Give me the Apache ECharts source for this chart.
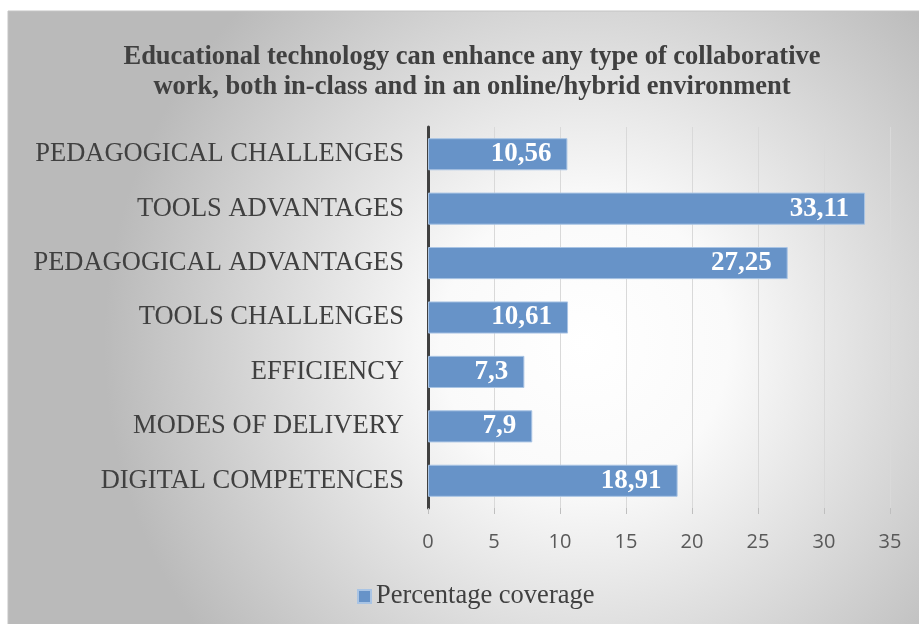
<!DOCTYPE html>
<html><head><meta charset="utf-8">
<script src="https://cdn.jsdelivr.net/npm/echarts@6/dist/echarts.min.js"></script>
<style>html,body{margin:0;padding:0;background:#fff}#c{width:919px;height:624px}</style>
</head><body><div id="c"></div>
<script>
const categories = ["PEDAGOGICAL CHALLENGES","TOOLS ADVANTAGES","PEDAGOGICAL ADVANTAGES","TOOLS CHALLENGES","EFFICIENCY","MODES OF DELIVERY","DIGITAL COMPETENCES"];
const coverage = [10.56, 33.11, 27.25, 10.61, 7.3, 7.9, 18.91];
const seriesName = "Percentage coverage";
const titleText = "Educational technology can enhance any type of collaborative\nwork, both in-class and in an online/hybrid environment";

const chart = echarts.init(document.getElementById('c'));
chart.setOption({
  backgroundColor: '#ffffff',
  animation: false,
  graphic: [{
    type: 'rect', z: -10, silent: true,
    shape: {x: 8, y: 11, width: 930, height: 640},
    style: {
      fill: new echarts.graphic.RadialGradient(0.62, 0.52, 0.75, [
        {offset: 0, color: '#ffffff'},
        {offset: 0.3, color: '#fafafa'},
        {offset: 1, color: '#bababa'}
      ]),
      stroke: '#c4c4c4', lineWidth: 1
    }
  }],
  title: {
    text: titleText,
    left: 467, top: 37, textAlign: 'center',
    textStyle: {fontFamily: 'Liberation Serif', fontWeight: 'bold', fontSize: 26.5, color: '#404040', lineHeight: 30}
  },
  legend: {
    data: [seriesName],
    left: 352, top: 578,
    itemWidth: 13, itemHeight: 13, itemGap: 6,
    icon: 'rect',
    textStyle: {fontFamily: 'Liberation Serif', fontSize: 26.5, color: '#404040'}
  },
  grid: {left: 428, right: 29, top: 127, bottom: 116, containLabel: false},
  xAxis: {
    type: 'value', min: 0, max: 35, interval: 5,
    axisLine: {show: false},
    axisTick: {show: true, length: 6, lineStyle: {color: '#bfbfbf'}},
    splitLine: {show: true, lineStyle: {color: '#d9d9d9', width: 1}},
    axisLabel: {fontFamily: 'Open Sans', fontSize: 20, color: '#595959', margin: 24}
  },
  yAxis: {
    type: 'category', data: categories, inverse: true,
    axisLine: {show: true, lineStyle: {color: '#404040', width: 3}},
    axisTick: {show: false},
    axisLabel: {fontFamily: 'Liberation Serif', fontSize: 26.5, color: '#404040', margin: 24}
  },
  series: [{
    name: seriesName, type: 'bar', data: coverage,
    barCategoryGap: '41%',
    itemStyle: {color: '#6793c8', borderColor: '#a9c4e4', borderWidth: 1},
    label: {
      show: true, position: 'insideRight', distance: 16,
      formatter: p => String(p.value).replace('.', ','),
      fontFamily: 'Liberation Serif', fontWeight: 'bold', fontSize: 27, color: '#ffffff'
    }
  }]
});
</script></body></html>
